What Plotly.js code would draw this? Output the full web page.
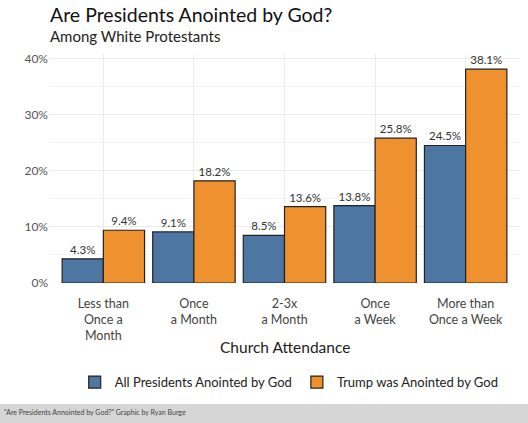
<!DOCTYPE html>
<html><head><meta charset="utf-8">
<script src="https://cdn.plot.ly/plotly-3.0.1.min.js"></script>
<style>html,body{margin:0;padding:0;background:#fff;}#chart{width:528px;height:423px;}</style>
</head><body><div id="chart"></div>
<script>
const categories = ["Less than<br>Once a<br>Month", "Once<br>a Month", "2-3x<br>a Month", "Once<br>a Week", "More than<br>Once a Week"];
const allPresidents = [4.3, 9.1, 8.5, 13.8, 24.5];
const trump = [9.4, 18.2, 13.6, 25.8, 38.1];
const seriesNames = ["All Presidents Anointed by God", "Trump was Anointed by God"];
const tickVals = [0, 10, 20, 30, 40];
const tickText = ["0%", "10%", "20%", "30%", "40%"];

const FONT = "Lato, 'Noto Sans', sans-serif";
const mk = (y, name, color) => ({
  type: "bar", x: categories, y: y, name: name,
  marker: {color: color, line: {color: "#222", width: 1.2}},
  text: y.map(v => v.toFixed(1) + "%"), textposition: "outside",
  textfont: {family: FONT, size: 11.5, color: "#333"},
  cliponaxis: false, hoverinfo: "none"
});
const data = [mk(allPresidents, seriesNames[0], "#4d76a2"), mk(trump, seriesNames[1], "#f0912f")];

const layout = {
  width: 528, height: 423,
  margin: {l: 49, r: 8, t: 53.5, b: 139.5},
  paper_bgcolor: "#fff", plot_bgcolor: "#fff",
  barmode: "group", bargap: 0.09, bargroupgap: 0,
  font: {family: FONT, color: "#333"},
  showlegend: true,
  legend: {orientation: "h", x: 0.51, xanchor: "center", y: -0.433, yanchor: "middle",
    font: {family: FONT, size: 13, color: "#222"}, itemwidth: 30, traceorder: "normal"},
  xaxis: {type: "category", range: [-0.6, 4.6], showgrid: true, gridcolor: "#ececec", gridwidth: 1,
    ticks: "", showline: false, zeroline: false, ticklabelstandoff: 11,
    tickfont: {family: FONT, size: 12.5, color: "#444"}, fixedrange: true},
  yaxis: {range: [0, 40.8], tickvals: tickVals, ticktext: tickText, showgrid: true, gridcolor: "#ebebeb",
    gridwidth: 1, zeroline: false, ticks: "", showline: false,
    minor: {dtick: 5, showgrid: true, gridcolor: "#f3f3f3", gridwidth: 1, ticks: ""},
    tickfont: {family: FONT, size: 12, color: "#555"}, fixedrange: true},
  annotations: [
    {text: "Are Presidents Anointed by God?", xref: "paper", yref: "paper", x: -0.003, y: 1.172,
     xanchor: "left", yanchor: "middle", showarrow: false, font: {family: FONT, size: 19.5, color: "#111"}},
    {text: "Among White Protestants", xref: "paper", yref: "paper", x: -0.003, y: 1.08,
     xanchor: "left", yanchor: "middle", showarrow: false, font: {family: FONT, size: 15, color: "#222"}},
    {text: "Church Attendance", xref: "paper", yref: "paper", x: 0.5, y: -0.28,
     xanchor: "center", yanchor: "middle", showarrow: false, font: {family: FONT, size: 15.5, color: "#222"}},
    {text: "\"Are Presidents Annointed by God?\" Graphic by Ryan Burge", xref: "paper", yref: "paper",
     x: -0.1, y: -0.562, xanchor: "left", yanchor: "middle", showarrow: false,
     font: {family: FONT, size: 7, color: "#444"}}
  ],
  shapes: [
    {type: "rect", xref: "paper", yref: "paper", x0: -0.12, x1: 1.03, y0: -0.528, y1: -0.62,
     fillcolor: "#d6d6d6", line: {width: 0}, layer: "below"}
  ]
};
Plotly.newPlot("chart", data, layout, {displayModeBar: false, staticPlot: true});
</script></body></html>
